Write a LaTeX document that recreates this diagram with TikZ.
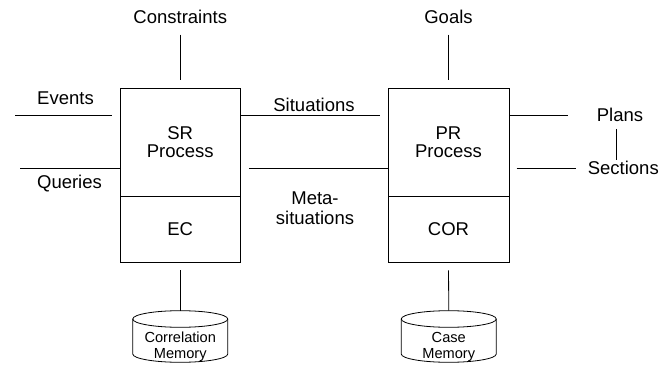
\documentclass[tikz,border=0pt]{standalone}
\usepackage{fontspec}
\setmainfont{Liberation Sans}
\begin{document}
\begin{tikzpicture}[x=1pt,y=1pt,line width=0.8pt,
  lbl/.style={inner sep=0pt,font=\fontsize{18.5}{18}\selectfont},
  boxa/.style={draw,minimum width=120.5pt,inner sep=0pt,align=center,font=\fontsize{18.5}{17.5}\selectfont},
  memlbl/.style={inner sep=0pt,align=center,font=\fontsize{14.6}{16}\selectfont},
  cylline/.style={line width=0.8pt}]
\useasboundingbox (0,0) rectangle (670,365);

% boxes
\node[boxa,minimum height=108pt] (sr) at (180.25,223) {SR\\Process};
\node[boxa,minimum height=66pt] (ec) at (180.25,136) {EC};
\node[boxa,minimum height=108pt,minimum width=121pt] (pr) at (448.5,223) {PR\\Process};
\node[boxa,minimum height=66pt,minimum width=121pt] (cor) at (448.5,136) {COR};

% top labels
\node[lbl,anchor=base] (cons) at (180.25,341) {Constraints};
\node[lbl,anchor=base] (goals) at (448.5,341) {Goals};
\draw[shorten <=10pt,shorten >=8pt] (cons.south) -- (sr.north);
\draw[shorten <=10pt,shorten >=8pt] (goals.south) -- (pr.north);

% left inputs
\node[lbl,anchor=base] (events) at (65.5,260.7) {Events};
\coordinate (evin) at (15,250);
\draw[shorten >=8pt] (evin) -- (evin -| sr.west);
\node[lbl,anchor=base] (queries) at (69.5,177) {Queries};
\coordinate (qin) at (20,196.5);
\draw (qin) -- (qin -| sr.west);

% middle
\node[lbl,anchor=base] (sit) at (314,254) {Situations};
\draw[shorten >=7.3pt] (sr.east |- evin) -- (pr.west |- evin);
\draw[shorten <=8pt] (sr.east |- qin) -- (pr.west |- qin);
\node[lbl,align=center,font=\fontsize{18.5}{20.7}\selectfont] (meta) at (315,156.8) {Meta-\\situations};

% right outputs
\node[lbl] (plans) at (620,250) {Plans};
\coordinate (plout) at (568,250);
\draw (pr.east |- plout) -- (plout);
\node[lbl] (sect) at (623.3,196.7) {Sections};
\coordinate (secin) at (516.7,196.5);
\draw[shorten >=11pt] (secin) -- (sect.west |- secin);
\coordinate (vx) at (616.7,0);
\draw[shorten <=6.6pt,shorten >=1.6pt] (plans.south -| vx) -- (sect.north -| vx);

% memories
\coordinate (c1) at (180.25,46);
\coordinate (c2) at (448.75,46);
\foreach \c in {c1,c2}{
  \draw[cylline] (\c) ellipse [x radius=47.5, y radius=8.3];
  \draw[cylline] ([xshift=-47.5pt]\c) -- ++(0,-35)
     arc[start angle=180,end angle=360,x radius=47.5,y radius=8.3] -- ++(0,35);
}
\node[memlbl] (mem1) at (180.25,18.3) {Correlation\\Memory};
\node[memlbl] (mem2) at (448.75,18.3) {Case\\Memory};
\draw[shorten <=8pt] (ec.south) -- ([yshift=8.3pt]c1);
\draw[shorten <=8pt] (cor.south) -- ([yshift=8.3pt]c2);
\end{tikzpicture}
\end{document}
